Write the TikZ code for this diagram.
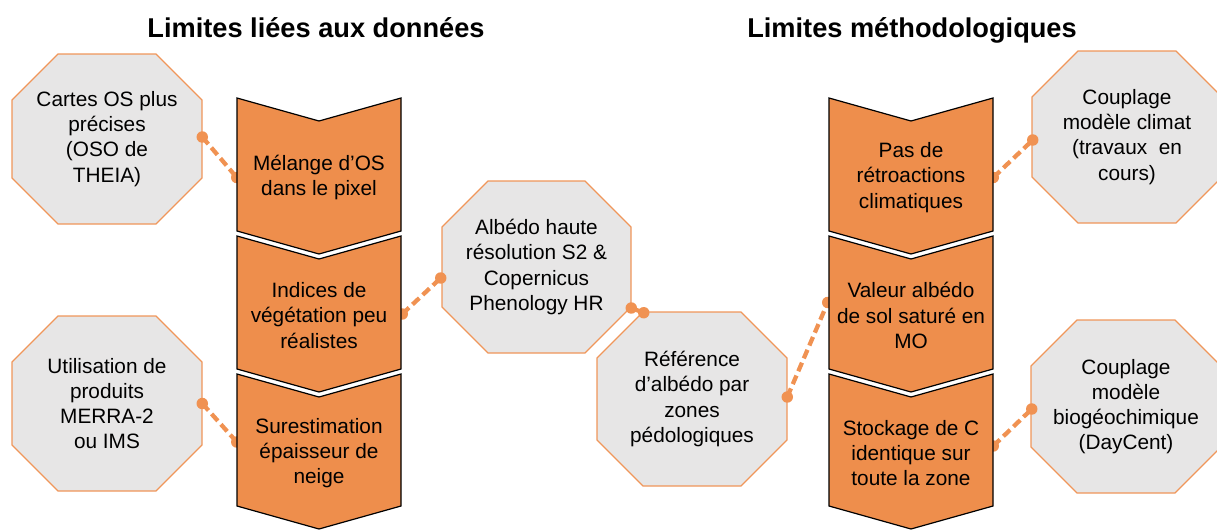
\documentclass[tikz,border=0pt]{standalone}
\usepackage{fontspec}
\setmainfont{Liberation Sans}
\usetikzlibrary{calc}
\definecolor{chevor}{RGB}{238,142,76}
\definecolor{octfill}{RGB}{231,230,230}
\definecolor{octline}{RGB}{240,150,90}
\definecolor{connor}{RGB}{240,146,82}
\pgfdeclarelayer{octl}\pgfdeclarelayer{linel}\pgfdeclarelayer{chevl}
\pgfsetlayers{octl,linel,chevl,main}
\newcommand\myocto[6]{%
  \pgfmathsetmacro\ocx{(#2+#4)/2}\pgfmathsetmacro\ocy{(#3+#5)/2}%
  \pgfmathsetmacro\ow{(#4-#2)*0.75}\pgfmathsetmacro\oh{(#5-#3)*0.75}%
  \node[txt, minimum width=\ow pt, minimum height=\oh pt] (#1) at (\ocx,\ocy) {#6};
  \begin{pgfonlayer}{octl}
  \path[octo] (#2+46,#3) -- (#4-46,#3) -- (#4,#3+46) -- (#4,#5-46) -- (#4-46,#5)
     -- (#2+46,#5) -- (#2,#5-46) -- (#2,#3+46) -- cycle;
  \end{pgfonlayer}}
\newcommand\mychev[6]{%
  \pgfmathsetmacro\ocx{(#2+#3)/2}\pgfmathsetmacro\ocy{(#4+#5)/2+13}%
  \pgfmathsetmacro\ow{(#3-#2)*0.75}\pgfmathsetmacro\oh{(#5-#4)*0.75}%
  \node[txt, minimum width=\ow pt, minimum height=\oh pt] (#1) at (\ocx,\ocy) {#6};
  \begin{pgfonlayer}{chevl}
  \path[chevshape] (#2,#4) -- (\ocx,#4+23) -- (#3,#4) -- (#3,#5) -- (\ocx,#5+23) -- (#2,#5) -- cycle;
  \end{pgfonlayer}}
\begin{document}
\begin{tikzpicture}[x=0.75pt,y=-0.75pt,
  txt/.style={font=\fontsize{15.6}{18.9}\selectfont, align=center, text=black, inner sep=0pt},
  ttl/.style={font=\fontsize{20.4}{24}\selectfont\bfseries, inner sep=0pt, anchor=base},
  octo/.style={fill=octfill, draw=octline, line width=0.9pt},
  chevshape/.style={fill=chevor, draw=black, line width=0.9pt, line join=miter},
  conn/.style={draw=connor, line width=3.2pt, dash pattern=on 7pt off 3.5pt},
  dotst/.style={fill=connor}
]
\useasboundingbox (0,0) rectangle (1217,529);

\node[ttl] (t1) at (316,37) {Limites liées aux données};
\node[ttl] (t2) at (912,37) {Limites méthodologiques};

\myocto{cartes}{12}{54}{202}{224}{Cartes OS plus\\précises\\(OSO de\\THEIA)}
\myocto{util}{12}{316}{202}{491}{Utilisation de\\produits\\MERRA-2\\ou IMS}
\myocto{albedo}{442}{181}{631}{353}{Albédo haute\\résolution S2 \&\\Copernicus\\Phenology HR}
\myocto{ref}{597}{312}{787}{486}{Référence\\d’albédo par\\zones\\pédologiques}
\myocto{climat}{1032}{51}{1222}{223}{Couplage\\modèle climat\\(travaux\ \ en\\cours)}
\myocto{bio}{1031}{320}{1221}{493}{Couplage\\modèle\\biogéochimique\\(DayCent)}

\mychev{melange}{237}{401}{98}{231}{Mélange d’OS\\dans le pixel}
\mychev{indices}{237}{401}{236}{369}{Indices de\\végétation peu\\réalistes}
\mychev{sures}{237}{401}{374}{506}{Surestimation\\épaisseur de\\neige}
\mychev{pasde}{829}{993}{98}{231}{Pas de\\rétroactions\\climatiques}
\mychev{valeur}{829}{993}{236}{369}{Valeur albédo\\de sol saturé en\\MO}
\mychev{stockage}{829}{993}{374}{506}{Stockage de C\\identique sur\\toute la zone}

\coordinate (c1a) at ($(cartes.east)+(0,-2)$);
\coordinate (c1b) at (melange.west);
\coordinate (c2a) at (util.east);
\coordinate (c2b) at ($(sures.west)+(0,-11)$);
\coordinate (c3a) at ($(indices.east)+(1,-1.5)$);
\coordinate (c3b) at ($(albedo.west)+(-1,11)$);
\coordinate (c4a) at ($(albedo.east)+(0,41)$);
\coordinate (c4b) at ($(ref.north west)+(47,1)$);
\coordinate (c5a) at ($(ref.east)+(0,-2)$);
\coordinate (c5b) at ($(valeur.west)+(-1,-13)$);
\coordinate (c6a) at (pasde.east);
\coordinate (c6b) at ($(climat.west)+(1,3)$);
\coordinate (c7a) at ($(stockage.east)+(0,-7)$);
\coordinate (c7b) at ($(bio.west)+(1,2.5)$);

\begin{pgfonlayer}{linel}
\foreach \a/\b in {c1a/c1b,c2a/c2b,c3a/c3b,c5a/c5b,c6a/c6b,c7a/c7b}{
  \draw[conn] (\a) -- (\b);
  \fill[dotst] (\a) circle (4.3pt) (\b) circle (4.3pt);
}
\draw[draw=connor, line width=3.2pt] (c4a) -- (c4b);
\fill[dotst] (c4a) circle (4.3pt) (c4b) circle (4.3pt);
\end{pgfonlayer}
\end{tikzpicture}
\end{document}
